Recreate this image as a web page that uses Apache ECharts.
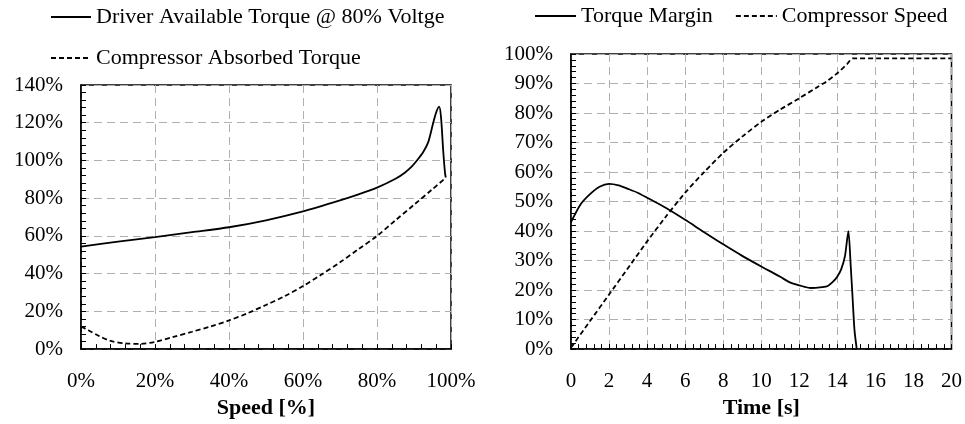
<!DOCTYPE html>
<html><head><meta charset="utf-8">
<script src="https://cdn.jsdelivr.net/npm/echarts@6/dist/echarts.min.js"></script>
<style>html,body{margin:0;padding:0;background:#fff}#c{width:965px;height:424px}</style>
</head><body><div id="c"></div>
<script>
// Left chart: torque vs speed
const drvSpeed  = [0, 10, 20, 30, 40, 50, 60, 70, 75, 80, 85, 87.5, 89.5, 91, 92.5, 93.9, 95.2, 96, 96.8, 97.3, 97.9, 98.4, 98.6];
const drvTorque = [54.3, 57, 59.4, 62, 64.6, 68.3, 73, 78.8, 82, 85.6, 90.3, 93.5, 97, 100.5, 104.5, 110, 120, 125.5, 128.5, 123, 105, 93, 91];
const cmpSpeed  = [0, 2, 5, 8, 12, 16, 20, 25, 30, 35, 40, 45, 50, 55, 60, 65, 70, 75, 80, 85, 90, 95, 98.6];
const cmpTorque = [12, 10, 6.8, 4.3, 3, 2.8, 3.8, 6.5, 9.2, 12, 15.2, 19, 23.4, 28, 33.4, 39.5, 46, 53, 60, 68.3, 76.5, 84.8, 90.8];
const leftXTicks = [0, 20, 40, 60, 80, 100];
const leftYTicks = [0, 20, 40, 60, 80, 100, 120, 140];

// Right chart: vs time
const marginTime  = [0, 0.5, 1, 1.5, 2, 2.5, 3, 3.5, 4, 5, 6, 7, 8, 9, 10, 11, 11.5, 12, 12.6, 13.2, 13.5, 13.8, 14, 14.2, 14.4, 14.58, 14.7, 14.8, 14.9, 15.02];
const marginValue = [43, 49, 52.5, 55, 56, 55.5, 54.3, 53, 51.3, 47.8, 43.8, 39.6, 35.5, 31.6, 28, 24.5, 22.6, 21.6, 20.7, 21, 21.4, 23, 24.6, 27, 31.5, 40, 28.5, 17.5, 6.5, 0];
const speedTime  = [0, 1, 2, 3, 4, 5, 6, 7, 8, 9, 10, 11, 12, 13, 13.5, 14, 14.5, 14.8, 20];
const speedValue = [0.5, 9.5, 18.5, 27.5, 36.5, 45, 53, 60, 66.5, 72, 77, 81.2, 85, 89, 91, 93.5, 96.5, 98.5, 98.5];
const rightXTicks = [0, 2, 4, 6, 8, 10, 12, 14, 16, 18, 20];
const rightYTicks = [0, 10, 20, 30, 40, 50, 60, 70, 80, 90, 100];

const FONT = '"Liberation Serif", "Times New Roman", serif';
const zip = (a, b) => a.map((v, i) => [v, b[i]]);

function axisCommon(min, max, step, fmt, nameTxt) {
  return {
    type: 'value', min: min, max: max, interval: step,
    axisLine: {show: true, lineStyle: {color: '#000', width: 1.5}},
    axisTick: {show: true, inside: true, length: 5, lineStyle: {color: '#000'}},
    minorTick: {show: true, splitNumber: 5, length: 5, lineStyle: {color: '#000'}},
    splitLine: {show: true, lineStyle: {color: '#b0b0b0', type: [8, 5], width: 1}},
    axisLabel: {color: '#000', fontFamily: FONT, fontSize: 21, formatter: fmt},
    name: nameTxt || '',
  };
}

const chart = echarts.init(document.getElementById('c'));
const xL = axisCommon(leftXTicks[0], leftXTicks[leftXTicks.length-1], leftXTicks[1]-leftXTicks[0], '{value}%', 'Speed [%]');
xL.gridIndex = 0; xL.nameLocation = 'middle'; xL.nameGap = 47; xL.axisLabel.margin = 22;
xL.nameTextStyle = {fontFamily: FONT, fontSize: 22, fontWeight: 'bold', color: '#000'};
const yL = axisCommon(leftYTicks[0], leftYTicks[leftYTicks.length-1], leftYTicks[1]-leftYTicks[0], '{value}%');
yL.gridIndex = 0; yL.axisLabel.margin = 18;
const xR = axisCommon(rightXTicks[0], rightXTicks[rightXTicks.length-1], rightXTicks[1]-rightXTicks[0], '{value}', 'Time [s]');
xR.gridIndex = 1; xR.nameLocation = 'middle'; xR.nameGap = 47; xR.axisLabel.margin = 22;
xR.nameTextStyle = {fontFamily: FONT, fontSize: 22, fontWeight: 'bold', color: '#000'};
const yR = axisCommon(rightYTicks[0], rightYTicks[rightYTicks.length-1], rightYTicks[1]-rightYTicks[0], '{value}%');
yR.gridIndex = 1; yR.axisLabel.margin = 18;

const legendText = {fontFamily: FONT, fontSize: 22, color: '#000'};
const legendItem = {opacity: 0};
chart.setOption({
  animation: false,
  backgroundColor: '#fff',
  grid: [
    {left: 81, right: 514, top: 85, bottom: 71, show: true, borderColor: '#000', borderWidth: 1.5},
    {left: 571, right: 10, top: 54, bottom: 72, show: true, borderColor: '#000', borderWidth: 1.5}
  ],
  legend: [
    {left: 50, top: 6, padding: 0, orient: 'vertical', itemWidth: 40, itemHeight: 22, itemGap: 19, itemStyle: legendItem,
     data: ['Driver Available Torque @ 80% Voltge', 'Compressor Absorbed Torque'], textStyle: legendText},
    {left: 534, top: 5, padding: 0, orient: 'horizontal', itemWidth: 41, itemHeight: 22, itemGap: 22, itemStyle: legendItem,
     data: ['Torque Margin', 'Compressor Speed'], textStyle: legendText}
  ],
  xAxis: [xL, xR],
  yAxis: [yL, yR],
  series: [
    {name: 'Driver Available Torque @ 80% Voltge', type: 'line', xAxisIndex: 0, yAxisIndex: 0,
     data: zip(drvSpeed, drvTorque), symbol: 'none', smooth: 0.25,
     lineStyle: {color: '#000', width: 1.8}, itemStyle: {color: '#000'}},
    {name: 'Compressor Absorbed Torque', type: 'line', xAxisIndex: 0, yAxisIndex: 0,
     data: zip(cmpSpeed, cmpTorque), symbol: 'none', smooth: 0.3,
     lineStyle: {color: '#000', width: 1.8, type: [5, 3]}, itemStyle: {color: '#000'}},
    {name: 'Torque Margin', type: 'line', xAxisIndex: 1, yAxisIndex: 1,
     data: zip(marginTime, marginValue), symbol: 'none', smooth: 0.25,
     lineStyle: {color: '#000', width: 1.8}, itemStyle: {color: '#000'}},
    {name: 'Compressor Speed', type: 'line', xAxisIndex: 1, yAxisIndex: 1,
     data: zip(speedTime, speedValue), symbol: 'none', smooth: 0.2,
     lineStyle: {color: '#000', width: 1.8, type: [5, 3]}, itemStyle: {color: '#000'}}
  ]
});
</script></body></html>
